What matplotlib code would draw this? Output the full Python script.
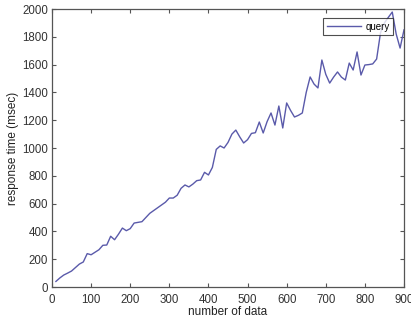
import numpy as np
import matplotlib.pyplot as plt

plt.rcParams['font.family'] = ['Liberation Sans', 'DejaVu Sans']

# number of data vs response time (msec)
n_data = np.arange(10, 901, 10)
resp_ms = [40, 65, 86, 100, 115, 140, 165, 180, 240, 232,
           250, 268, 300, 302, 365, 340, 380, 424, 405, 420,
           460, 465, 470, 500, 530, 550, 570, 590, 610, 640,
           640, 660, 710, 734, 720, 740, 765, 770, 825, 806,
           860, 990, 1015, 1000, 1040, 1100, 1129, 1080, 1036, 1060,
           1105, 1110, 1187, 1108, 1190, 1252, 1165, 1302, 1144, 1324,
           1270, 1223, 1235, 1252, 1400, 1511, 1460, 1432, 1633, 1530,
           1467, 1510, 1547, 1510, 1489, 1611, 1561, 1691, 1525, 1597,
           1600, 1605, 1640, 1830, 1900, 1940, 1978, 1820, 1719, 1850]

xticks = np.arange(0, 901, 100)
yticks = np.arange(0, 2001, 200)

fig = plt.figure(figsize=(4.11, 3.23), dpi=100)
ax = fig.add_axes([52/411, 1 - 287/323, 352/411, 278/323])

ax.plot(n_data, resp_ms, color='#5a5aaa', lw=1.0, label='query')

ax.set_xlim(0, 900)
ax.set_ylim(0, 2000)
ax.set_xticks(xticks)
ax.set_yticks(yticks)
ax.tick_params(direction='in', length=3, width=0.8, top=True, right=True,
               labelsize=8.3, colors='#555555', labelcolor='#333333')
ax.tick_params(axis='x', pad=5)
ax.tick_params(axis='y', pad=3)
for s in ax.spines.values():
    s.set_color('#555555')
    s.set_linewidth(0.9)

ax.set_xlabel('number of data', fontsize=8.5, color='#222222', labelpad=0)
ax.set_ylabel('response time (msec)', fontsize=8.5, color='#222222', labelpad=2)

leg = ax.legend(loc='upper right', fontsize=7, frameon=True, fancybox=False,
                borderpad=0.35, handlelength=3.5, handletextpad=0.5,
                bbox_to_anchor=(0.969, 0.966), borderaxespad=0)
leg.get_frame().set_edgecolor('#222222')
leg.get_frame().set_linewidth(0.8)

fig.savefig('out.png', dpi=100)
